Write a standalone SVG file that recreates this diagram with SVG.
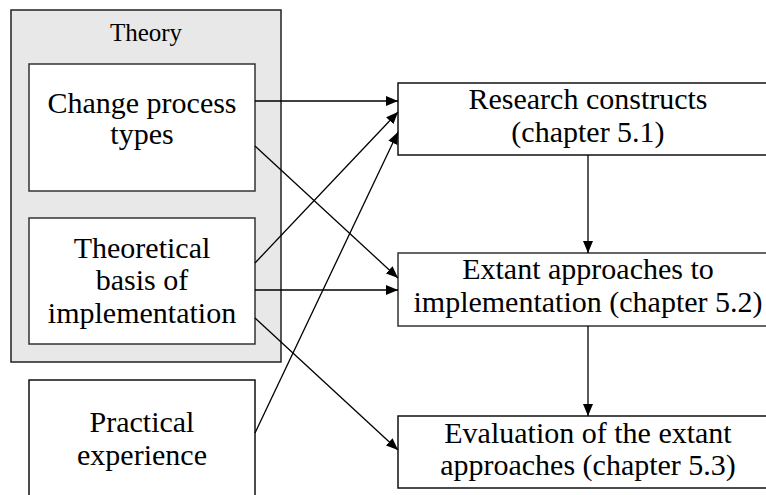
<svg xmlns="http://www.w3.org/2000/svg" width="766" height="495" viewBox="0 0 766 495">
  <style>
    .box { fill: #ffffff; stroke: #333333; stroke-width: 1.5; }
    .group { fill: #e8e8e8; stroke: #222222; stroke-width: 1.5; }
    .t { font-family: "Liberation Serif", "Times New Roman", serif; font-size: 30px; fill: #000000; text-anchor: middle; }
    .title { font-size: 25px; }
    .edge { fill: none; stroke: #000000; stroke-width: 1.3; marker-end: url(#arrow); }
  </style>
  <defs>
    <marker id="arrow" viewBox="0 0 12 10" refX="12" refY="5" markerWidth="12" markerHeight="10" markerUnits="userSpaceOnUse" orient="auto">
      <path d="M0,0 L12,5 L0,10 Z" fill="#000000"/>
    </marker>
  </defs>

  <rect width="766" height="495" fill="#ffffff"/>

  <!-- Theory container -->
  <g id="theory">
    <rect class="group" x="11" y="10" width="270" height="352"/>
    <text class="t title" x="146" y="41">Theory</text>
  </g>

  <g id="change-process-types">
    <rect class="box" x="29" y="64" width="226" height="127"/>
    <text class="t" x="142" y="113">Change process</text>
    <text class="t" x="142" y="144">types</text>
  </g>

  <g id="theoretical-basis">
    <rect class="box" x="29" y="218" width="226" height="126"/>
    <text class="t" x="142" y="258">Theoretical</text>
    <text class="t" x="142" y="290">basis of</text>
    <text class="t" x="142" y="323">implementation</text>
  </g>

  <g id="practical-experience">
    <rect class="box" x="29" y="380" width="226" height="130" style="stroke:#111111"/>
    <text class="t" x="142" y="432">Practical</text>
    <text class="t" x="142" y="465">experience</text>
  </g>

  <g id="research-constructs">
    <rect class="box" x="398" y="83" width="380" height="72" style="stroke:#111111"/>
    <text class="t" x="588" y="109">Research constructs</text>
    <text class="t" x="588" y="142">(chapter 5.1)</text>
  </g>

  <g id="extant-approaches">
    <rect class="box" x="398" y="253" width="380" height="73"/>
    <text class="t" x="588" y="279">Extant approaches to</text>
    <text class="t" x="588" y="312">implementation (chapter 5.2)</text>
  </g>

  <g id="evaluation">
    <rect class="box" x="398" y="416" width="380" height="72" style="stroke:#111111"/>
    <text class="t" x="588" y="443">Evaluation of the extant</text>
    <text class="t" x="588" y="475">approaches (chapter 5.3)</text>
  </g>

  <!-- connectors -->
  <g id="connectors">
    <line class="edge" x1="255" y1="101" x2="398" y2="101"/>
    <line class="edge" x1="255" y1="146" x2="398" y2="278"/>
    <line class="edge" x1="255" y1="263" x2="398" y2="112"/>
    <line class="edge" x1="255" y1="290" x2="398" y2="290"/>
    <line class="edge" x1="255" y1="318" x2="398" y2="450"/>
    <line class="edge" x1="255" y1="433" x2="398" y2="132"/>
    <line class="edge" x1="588" y1="155" x2="588" y2="253"/>
    <line class="edge" x1="588" y1="326" x2="588" y2="416"/>
  </g>
</svg>
